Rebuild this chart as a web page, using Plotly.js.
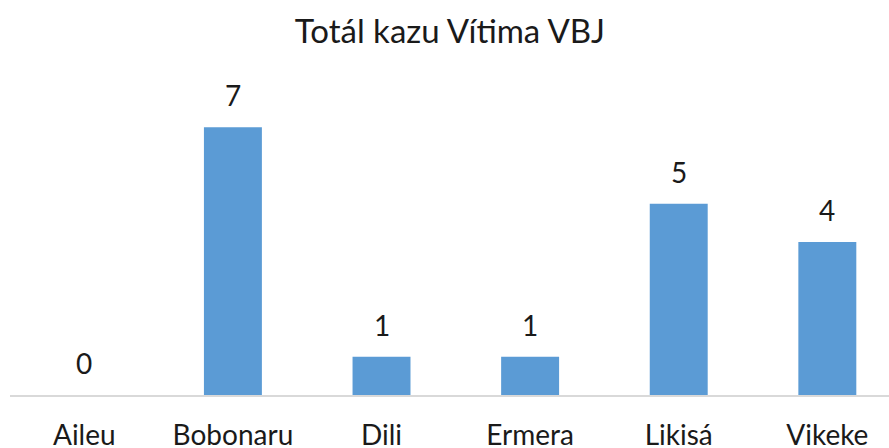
<!DOCTYPE html>
<html>
<head>
<meta charset="utf-8">
<script src="https://cdn.plot.ly/plotly-3.0.1.min.js"></script>
<style>html,body{margin:0;padding:0;background:#fff;}#chart{width:889px;height:448px;}</style>
</head>
<body>
<div id="chart"></div>
<script>
const chartTitle = "Totál kazu Vítima VBJ";
const municipalities = ["Aileu", "Bobonaru", "Dili", "Ermera", "Likisá", "Vikeke"];
const victimCounts = [0, 7, 1, 1, 5, 4];

const FONT = "Lato, 'Open Sans', sans-serif";

const trace = {
  type: "bar",
  x: municipalities,
  y: victimCounts,
  marker: {color: "#5b9bd5"},
  width: 0.39,
  hoverinfo: "x+y"
};

const annotations = municipalities.map((m, i) => ({
  x: m, y: victimCounts[i], xref: "x", yref: "y",
  text: String(victimCounts[i]), showarrow: false,
  yshift: 32, font: {family: FONT, size: 28, color: "#1a1a1a"}
}));

const layout = {
  width: 889, height: 448,
  margin: {l: 10, r: 0, t: 89, b: 53},
  paper_bgcolor: "#fff", plot_bgcolor: "#fff",
  title: {text: chartTitle, x: 0.506, xanchor: "center", y: 0.93, yanchor: "middle",
          font: {family: FONT, size: 33, color: "#1a1a1a"}},
  showlegend: false,
  xaxis: {
    type: "category", range: [-0.5, 5.415],
    showline: true, linecolor: "#d9d9d9", linewidth: 2,
    showgrid: false, zeroline: false, ticks: "", ticklabelstandoff: 14,
    tickfont: {family: FONT, size: 28, color: "#1a1a1a"}
  },
  yaxis: {
    range: [0, 8], visible: false, showgrid: false, zeroline: false
  },
  annotations: annotations
};

Plotly.newPlot("chart", [trace], layout, {displayModeBar: false, staticPlot: true});
</script>
</body>
</html>
